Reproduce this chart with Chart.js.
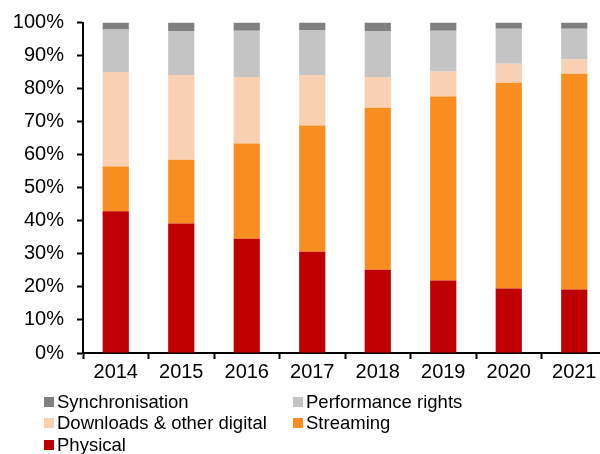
<!DOCTYPE html>
<html>
<head>
<meta charset="utf-8">
<script src="https://cdn.jsdelivr.net/npm/chart.js@4/dist/chart.umd.min.js"></script>
<style>
  html, body { margin: 0; padding: 0; background: #fff; overflow: hidden; width: 600px; height: 454px; }
  #wrap { position: absolute; left: 0; top: 0; width: 607px; height: 385px; }
  #legend { position: absolute; left: 0; top: 0; width: 600px; height: 454px; pointer-events: none;
            font-family: "Liberation Sans", Arial, sans-serif; font-size: 18.5px; color: #000; }
  .item { position: absolute; height: 20px; line-height: 20px; white-space: nowrap; }
  .box { position: absolute; left: 0; top: 5px; width: 10px; height: 10px; }
  .lbl { position: absolute; left: 13px; top: 0; }
</style>
</head>
<body>
<div id="wrap"><canvas id="c" width="607" height="385"></canvas></div>
<div id="legend"></div>
<script>
const years = ["2014", "2015", "2016", "2017", "2018", "2019", "2020", "2021"];
const physical    = [42.9, 39.2, 34.6, 30.6, 25.2, 21.9, 19.5, 19.2];
const streaming   = [13.5, 19.3, 28.8, 38.2, 49.0, 55.7, 62.3, 65.3];
const downloads   = [28.6, 25.6, 20.1, 15.3,  9.3,  7.6,  5.7,  4.4];
const performance = [12.9, 13.3, 14.0, 13.6, 13.9, 12.3, 10.6,  9.2];
const sync        = [ 2.1,  2.6,  2.5,  2.3,  2.6,  2.5,  1.9,  1.9];
const yTicks = [0, 10, 20, 30, 40, 50, 60, 70, 80, 90, 100];

const seriesNames  = ["Physical", "Streaming", "Downloads & other digital", "Performance rights", "Synchronisation"];
const seriesColors = ["#C00000", "#F98D1F", "#F9D0B2", "#C4C4C4", "#808080"];
const seriesData   = [physical, streaming, downloads, performance, sync];

const FONT = "'Liberation Sans', Arial, sans-serif";

const datasets = seriesNames.map((n, i) => ({
  label: n,
  data: seriesData[i],
  backgroundColor: seriesColors[i],
  borderWidth: 0,
  barPercentage: 0.4,
  categoryPercentage: 1.0
}));

new Chart(document.getElementById('c'), {
  type: 'bar',
  data: { labels: years, datasets },
  options: {
    responsive: false,
    animation: false,
    layout: { padding: { top: 22.5, left: 0, right: 0, bottom: 0 } },
    plugins: { legend: { display: false }, tooltip: { enabled: false } },
    scales: {
      x: {
        stacked: true,
        grid: { display: true, drawOnChartArea: false, drawTicks: true, tickLength: 6, tickWidth: 2, tickColor: '#000', offset: true },
        border: { display: true, color: '#000', width: 2 },
        ticks: { color: '#000', font: { family: FONT, size: 20 }, padding: 1, maxRotation: 0 },
        afterFit: s => { s.height = 32; s.paddingLeft = 0; s.paddingRight = 0; }
      },
      y: {
        stacked: true,
        min: 0, max: 100,
        afterBuildTicks: s => { s.ticks = yTicks.map(v => ({ value: v })); },
        grid: { display: true, drawOnChartArea: false, drawTicks: true, tickLength: 6, tickWidth: 2, tickColor: '#000' },
        border: { display: true, color: '#000', width: 2 },
        ticks: { color: '#000', font: { family: FONT, size: 20 }, padding: 13, callback: v => v + '%' },
        afterFit: s => { s.width = 83; s.paddingTop = 0; s.paddingBottom = 0; }
      }
    }
  }
});

// HTML legend built from the series arrays (two-column grid as in the reference)
const legendOrder = [4, 3, 2, 1, 0];
const colX = [44, 293];
const rowY = [392, 413, 435];
const lg = document.getElementById('legend');
legendOrder.forEach((si, k) => {
  const it = document.createElement('div');
  it.className = 'item';
  it.style.left = colX[k % 2] + 'px';
  it.style.top = rowY[Math.floor(k / 2)] + 'px';
  const b = document.createElement('div');
  b.className = 'box';
  b.style.background = seriesColors[si];
  const t = document.createElement('span');
  t.className = 'lbl';
  t.textContent = seriesNames[si];
  it.appendChild(b); it.appendChild(t);
  lg.appendChild(it);
});
</script>
</body>
</html>
